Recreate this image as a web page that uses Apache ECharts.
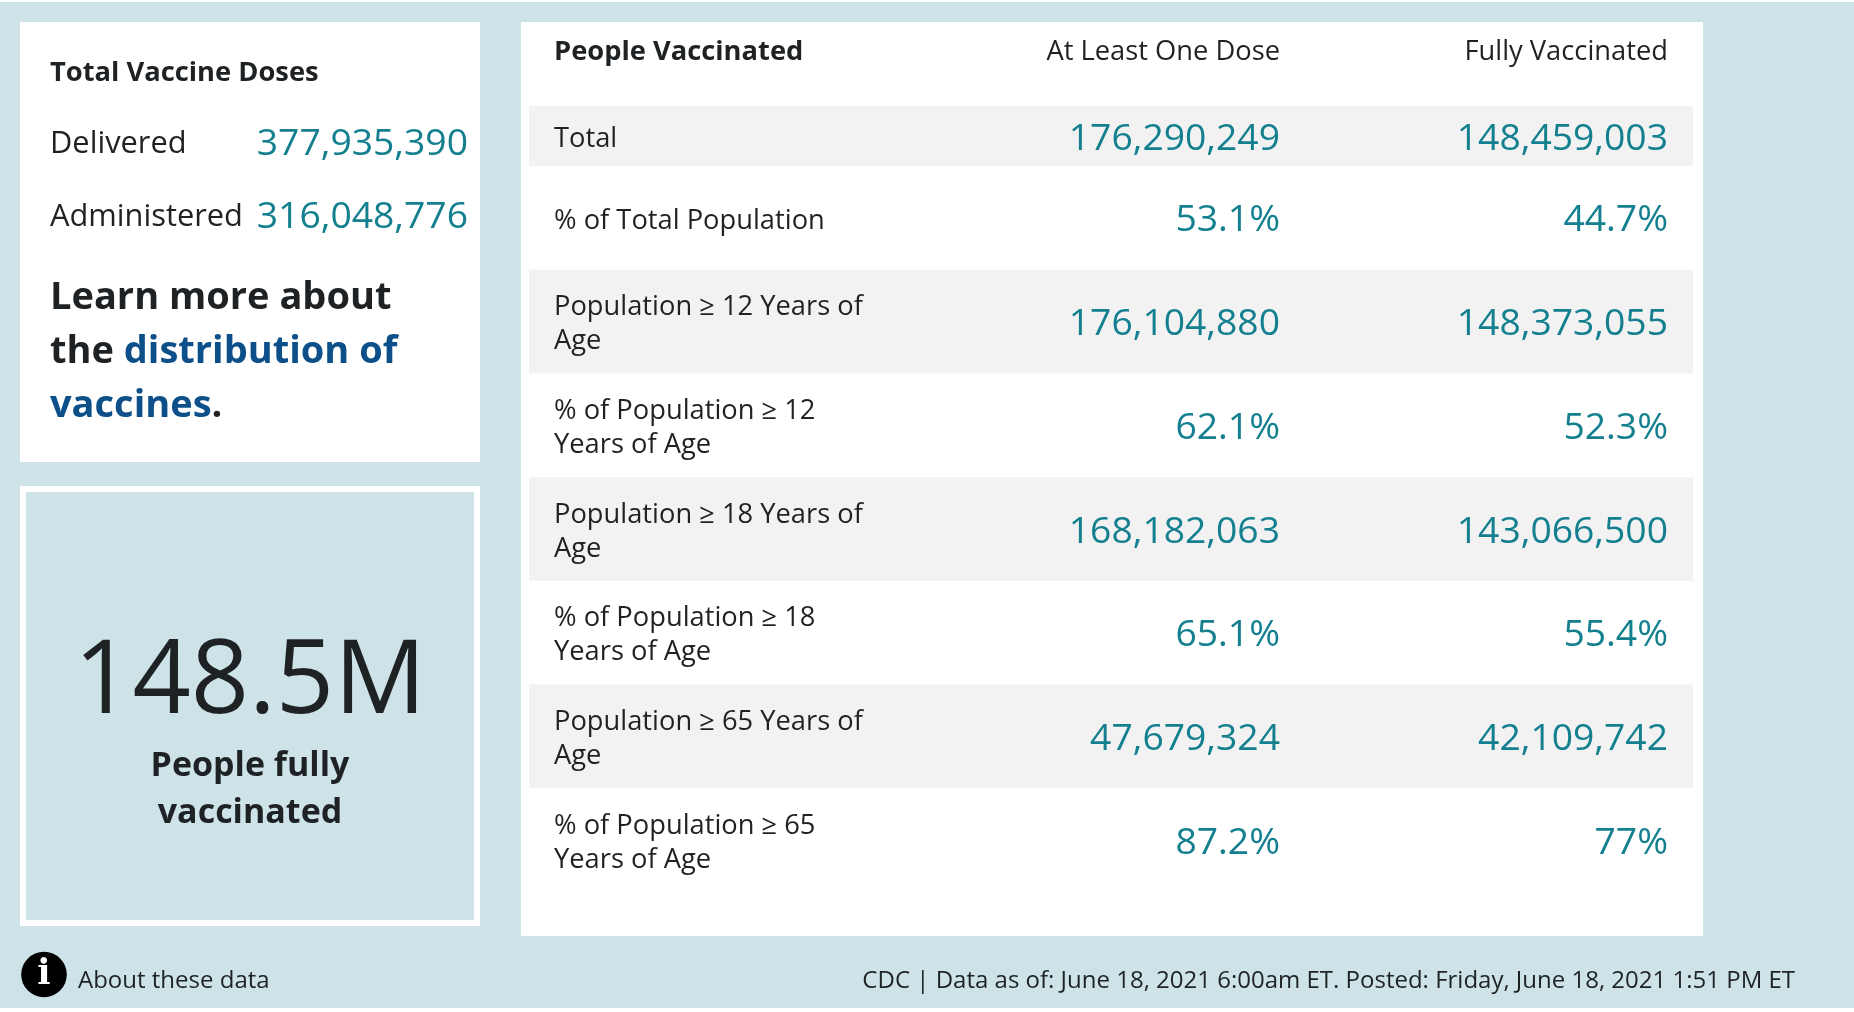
<!DOCTYPE html>
<html>
<head>
<meta charset="utf-8">
<title>COVID-19 vaccinations</title>
<script src="https://cdn.jsdelivr.net/npm/echarts@6/dist/echarts.min.js"></script>
<style>
html,body{margin:0;padding:0;background:#fff;}
#main{width:1854px;height:1012px;}
</style>
</head>
<body>
<div id="main"></div>
<script>
var FONT = '"Open Sans", sans-serif';
var INK = '#1f2224', TEAL = '#14808f', LINK = '#0d5089', BG = '#cde3e8', BAND = '#f2f2f3';

// table
var tableHeader = ['People Vaccinated', 'At Least One Dose', 'Fully Vaccinated'];
var totalLabels = ['Total'];
var totalOneDose = ['176,290,249'];
var totalFully = ['148,459,003'];
var rowLabels = [
    '% of Total Population',
    'Population ≥ 12 Years of\nAge',
    '% of Population ≥ 12\nYears of Age',
    'Population ≥ 18 Years of\nAge',
    '% of Population ≥ 18\nYears of Age',
    'Population ≥ 65 Years of\nAge',
    '% of Population ≥ 65\nYears of Age'
];
var rowOneDose = ['53.1%', '176,104,880', '62.1%', '168,182,063', '65.1%', '47,679,324', '87.2%'];
var rowFully = ['44.7%', '148,373,055', '52.3%', '143,066,500', '55.4%', '42,109,742', '77%'];

// left side and footer
var dosesTitle = 'Total Vaccine Doses';
var doseLabels = ['Delivered', 'Administered'];
var doseValues = ['377,935,390', '316,048,776'];
var bigNumber = '148.5M';
var bigCaption = 'People fully\nvaccinated';
var aboutText = 'About these data';
var footerText = 'CDC | Data as of: June 18, 2021 6:00am ET. Posted: Friday, June 18, 2021 1:51 PM ET';

function txt(x, y, text, size, opt) {
    opt = opt || {};
    return {
        type: 'text', x: x, y: y, z: 10,
        style: {
            text: text,
            fontFamily: opt.family || FONT,
            fontSize: size,
            fontWeight: opt.weight || 400,
            fill: opt.fill || INK,
            align: opt.align || 'left',
            verticalAlign: 'middle',
            lineHeight: opt.lineHeight,
            rich: opt.rich
        }
    };
}

function box(x, y, w, h, fill, stroke, lineWidth) {
    return {
        type: 'rect', z: 1,
        shape: {x: x, y: y, width: w, height: h},
        style: {fill: fill, stroke: stroke, lineWidth: lineWidth || 0}
    };
}

// one table row, y comes from the category axis
function renderRow(labels, one, fully) {
    return function (params, api) {
        var i = api.value(1);
        var sys = params.coordSys;
        var cy = api.coord([0, i])[1];
        var h = api.size([0, 1])[1];
        var kids = [];
        // every other row has the grey band, starting with Total
        if (labels.length === 1 || i % 2 === 1) {
            kids.push({type: 'rect', shape: {x: sys.x, y: cy - h / 2, width: sys.width, height: h}, style: {fill: BAND}});
        }
        kids.push({type: 'text', style: {x: 554, y: cy + 3, text: labels[i], fontFamily: FONT, fontSize: 27.3, fill: INK, verticalAlign: 'middle', lineHeight: 34}});
        kids.push({type: 'text', style: {x: 1280, y: cy + 3, text: one[i], fontFamily: FONT, fontSize: 37.3, fill: TEAL, align: 'right', verticalAlign: 'middle'}});
        kids.push({type: 'text', style: {x: 1668, y: cy + 3, text: fully[i], fontFamily: FONT, fontSize: 37.3, fill: TEAL, align: 'right', verticalAlign: 'middle'}});
        return {type: 'group', children: kids};
    };
}

function rowData(labels) {
    return labels.map(function (l, i) { return [0, i]; });
}

var chart = echarts.init(document.getElementById('main'), null, {renderer: 'canvas'});

var option = {
    animation: false,
    backgroundColor: '#fff',
    grid: [
        {left: 529, top: 106, width: 1164, height: 60},
        {left: 529, top: 166, width: 1164, height: 726}
    ],
    xAxis: [
        {gridIndex: 0, type: 'category', data: ['row'], show: false},
        {gridIndex: 1, type: 'category', data: ['row'], show: false}
    ],
    yAxis: [
        {gridIndex: 0, type: 'category', data: totalLabels, inverse: true, show: false},
        {gridIndex: 1, type: 'category', data: rowLabels, inverse: true, show: false}
    ],
    series: [
        {type: 'custom', xAxisIndex: 0, yAxisIndex: 0, z: 5, silent: true, encode: {x: 0, y: 1},
            data: rowData(totalLabels), renderItem: renderRow(totalLabels, totalOneDose, totalFully)},
        {type: 'custom', xAxisIndex: 1, yAxisIndex: 1, z: 5, silent: true, encode: {x: 0, y: 1},
            data: rowData(rowLabels), renderItem: renderRow(rowLabels, rowOneDose, rowFully)}
    ],
    graphic: {
        elements: [
            box(0, 2, 1854, 1006, BG),
            box(20, 22, 460, 440, '#fff'),
            box(23, 489, 454, 434, BG, '#fff', 6),
            box(521, 22, 1182, 914, '#fff'),

            txt(50, 73, dosesTitle, 27.3, {weight: 700}),
            txt(50, 144, doseLabels[0], 30.8),
            txt(50, 217, doseLabels[1], 30.8),
            txt(468, 144, doseValues[0], 37.3, {fill: TEAL, align: 'right'}),
            txt(468, 217, doseValues[1], 37.3, {fill: TEAL, align: 'right'}),
            txt(50, 298, 'Learn more about', 38, {weight: 700}),
            txt(50, 352, '{d|the }{l|distribution of}', 38, {rich: {
                d: {fontFamily: FONT, fontSize: 38, fontWeight: 700, fill: INK},
                l: {fontFamily: FONT, fontSize: 38, fontWeight: 700, fill: LINK}
            }}),
            txt(50, 406, '{l|vaccines}{d|.}', 38, {rich: {
                d: {fontFamily: FONT, fontSize: 38, fontWeight: 700, fill: INK},
                l: {fontFamily: FONT, fontSize: 38, fontWeight: 700, fill: LINK}
            }}),

            txt(250, 684, bigNumber, 102, {align: 'center'}),
            txt(250, 790, bigCaption, 34, {weight: 700, align: 'center', lineHeight: 47}),

            txt(554, 52.5, tableHeader[0], 27.3, {weight: 700}),
            txt(1280, 52.5, tableHeader[1], 27.3, {align: 'right'}),
            txt(1668, 52.5, tableHeader[2], 27.3, {align: 'right'}),

            {type: 'circle', z: 5, shape: {cx: 44, cy: 974.5, r: 22.8}, style: {fill: '#000'}},
            txt(44, 975, 'i', 35, {family: '"DejaVu Serif", serif', weight: 700, fill: '#fff', align: 'center'}),
            txt(78, 981, aboutText, 24),
            txt(1795, 981, footerText, 24, {align: 'right'})
        ]
    }
};
chart.setOption(option);
</script>
</body>
</html>
